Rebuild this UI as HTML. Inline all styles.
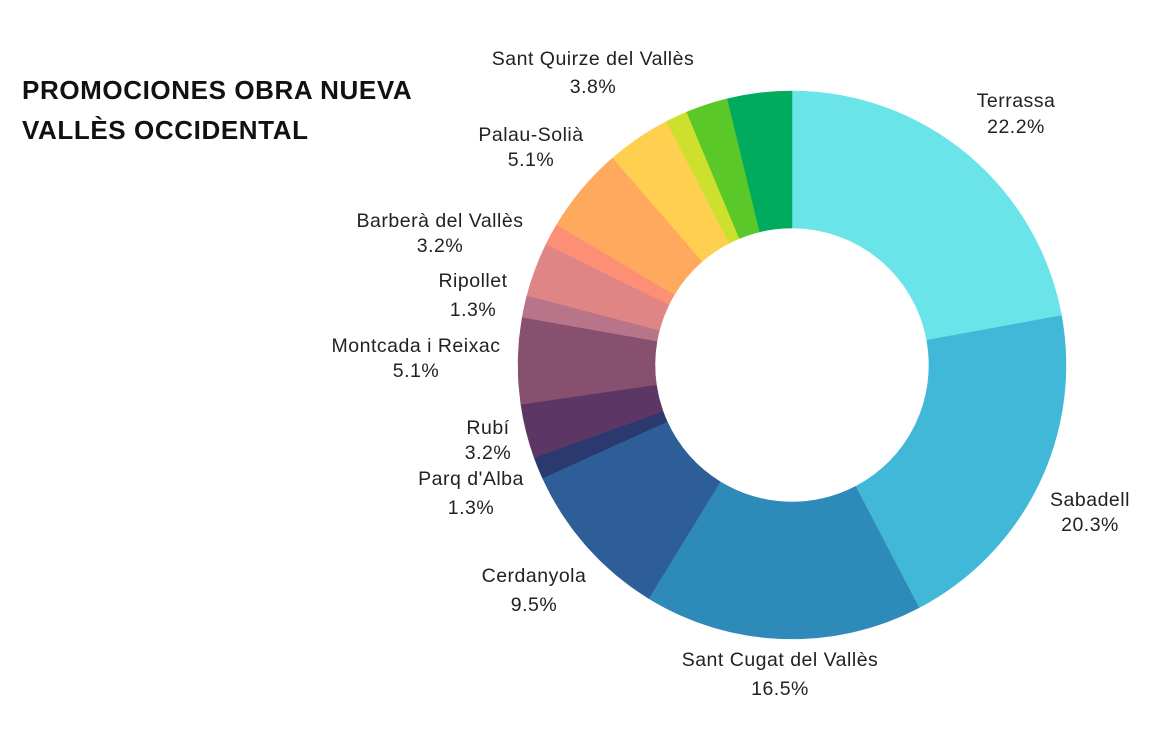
<!DOCTYPE html>
<html><head><meta charset="utf-8"><style>
body{margin:0;background:#fff;}
svg text{font-family:"Liberation Sans",sans-serif;}
</style></head><body>
<svg id="s" width="1176" height="736" xmlns="http://www.w3.org/2000/svg">
<text x="22" y="99" font-size="26" font-weight="bold" fill="#111" letter-spacing="0.6">PROMOCIONES OBRA NUEVA</text>
<text x="22" y="139" font-size="26" font-weight="bold" fill="#111" letter-spacing="0.6">VALLÈS OCCIDENTAL</text>
<g id="p"></g>
<g font-size="19.5" fill="#222" text-anchor="middle" letter-spacing="0.5">
<text x="593" y="65">Sant Quirze del Vallès</text><text x="593" y="93">3.8%</text>
<text x="1016" y="107">Terrassa</text><text x="1016" y="133">22.2%</text>
<text x="531" y="141">Palau-Solià</text><text x="531" y="166">5.1%</text>
<text x="440" y="227">Barberà del Vallès</text><text x="440" y="252">3.2%</text>
<text x="473" y="287">Ripollet</text><text x="473" y="316">1.3%</text>
<text x="416" y="352">Montcada i Reixac</text><text x="416" y="377">5.1%</text>
<text x="488" y="434">Rubí</text><text x="488" y="459">3.2%</text>
<text x="471" y="485">Parq d'Alba</text><text x="471" y="514">1.3%</text>
<text x="534" y="582">Cerdanyola</text><text x="534" y="611">9.5%</text>
<text x="780" y="666">Sant Cugat del Vallès</text><text x="780" y="695">16.5%</text>
<text x="1090" y="506">Sabadell</text><text x="1090" y="531">20.3%</text>
</g>
</svg>
<script>
var d=[[22.2,"#6ae4e8"],[20.3,"#42b8d8"],[16.5,"#2e8ab9"],[9.5,"#2e5e97"],[1.3,"#2b3a6e"],[3.2,"#5c3766"],[5.1,"#87506e"],[1.3,"#b87488"],[3.2,"#e08585"],[1.3,"#fc8f74"],[5.1,"#fea95e"],[3.8,"#ffcf50"],[1.3,"#cde02e"],[2.5,"#5ac828"],[3.8,"#00ab5e"]];
var t=0;d.forEach(function(x){t+=x[0]});
var cx=792,cy=365,R=274,r=137,a=0,h="";
function pt(rad,ang){return [cx+rad*Math.sin(ang),cy-rad*Math.cos(ang)];}
d.forEach(function(x){var b=a+x[0]/t*2*Math.PI,l=(b-a)>Math.PI?1:0;
var p1=pt(R,a),p2=pt(R,b),p3=pt(r,b),p4=pt(r,a);
h+='<path fill="'+x[1]+'" stroke="'+x[1]+'" stroke-width="0.5" d="M'+p1+' A'+R+','+R+' 0 '+l+' 1 '+p2+' L'+p3+' A'+r+','+r+' 0 '+l+' 0 '+p4+'Z"/>';a=b;});
document.getElementById("p").innerHTML=h;
</script>
</body></html>
